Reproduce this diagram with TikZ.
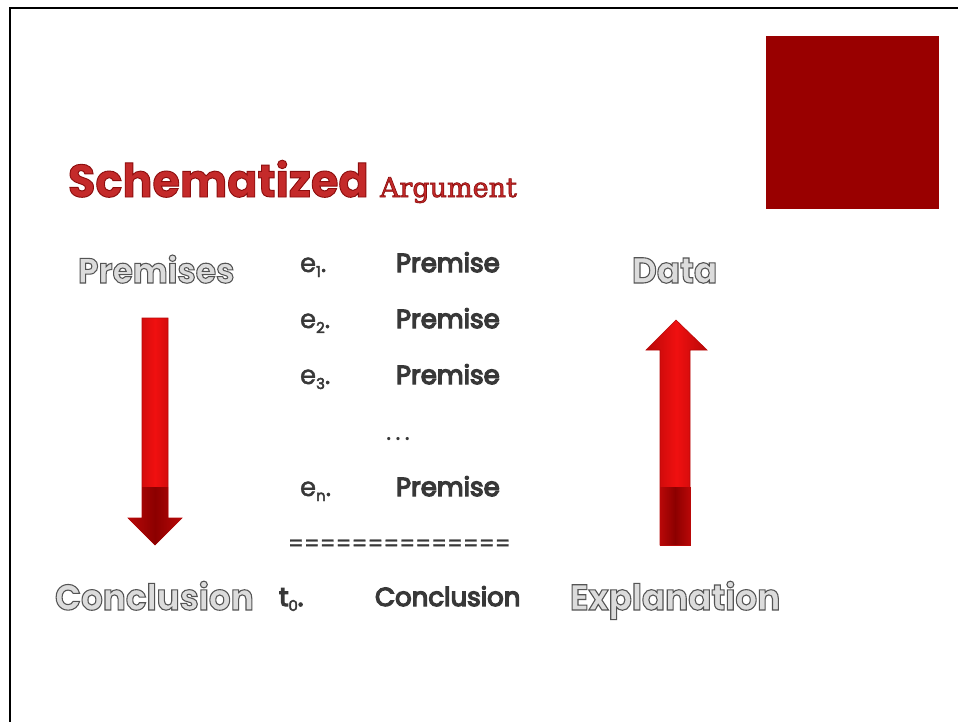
\documentclass[tikz,border=0pt]{standalone}
\usepackage{fontspec}
\setmainfont{Poppins}
\newfontfamily\argfont{DejaVu Serif}
\definecolor{boxred}{HTML}{990000}
\definecolor{titlered}{HTML}{C42A2A}
\definecolor{olfill}{HTML}{DCDCDC}
\definecolor{listgray}{HTML}{383838}
\definecolor{arrbright}{HTML}{F01010}
\definecolor{arrdark}{HTML}{B80808}
\definecolor{arrdeep}{HTML}{8C0000}
% stroke colour set by a pdf literal, fill by the text colour
\newcommand{\outl}[2]{\textcolor{olfill}{\special{pdf:literal direct 0.33 0.33 0.33 RG}\addfontfeature{FakeBold=#1}#2}}
\newcommand{\redoutl}[2]{\textcolor{titlered}{\special{pdf:literal direct 0.55 0.05 0.05 RG}\addfontfeature{FakeBold=#1}#2}}
\newcommand{\sbx}[1]{\raisebox{-5pt}{\fontsize{15}{15}\selectfont\addfontfeature{FakeBold=3} #1}}
\begin{document}
\begin{tikzpicture}[x=1pt,y=-1pt,
  txt/.style={anchor=base west,inner sep=0pt,outer sep=0pt},
  outlined/.style={txt,font=\fontsize{36}{36}\selectfont\bfseries\addfontfeature{FakeStretch=0.95}},
  listtxt/.style={txt,text=listgray,font=\fontsize{26}{26}\selectfont\addfontfeature{FakeBold=5}},
  idxtxt/.style={txt,text=listgray,font=\fontsize{26}{26}\selectfont\addfontfeature{FakeBold=1.5}},
  arrowbody/.style={draw=arrdark,line width=0.6pt,left color=arrdark,right color=arrdark,middle color=arrbright},
  arrowlow/.style={left color=arrdark,right color=arrdark,middle color=arrdeep}]
\useasboundingbox (0,0) rectangle (958,722);
\fill[white] (0,0) rectangle (958,722);
% frame
\draw[line width=2.5pt] (958,8) -- (10,8) -- (10,722);
% red square
\fill[boxred] (766,36) rectangle (939,209);
% title
\node[txt,font=\fontsize{46}{46}\selectfont\bfseries\addfontfeature{FakeStretch=0.97}] (title) at (68,197) {\redoutl{2}{Schematized}};
\node[txt,font=\fontsize{27}{27}\selectfont\argfont] (arg) at (380,197) {\redoutl{2.5}{Argument}};
% outlined labels
\node[outlined,font=\fontsize{35}{35}\selectfont\bfseries\addfontfeature{FakeStretch=0.94}] (prem) at (78,283) {\outl{3}{Premises}};
\node[outlined] (data) at (632,283) {\outl{3}{Data}};
\node[outlined] (concl) at (55,610) {\outl{3}{Conclusion}};
\node[outlined] (expl) at (570,610) {\outl{3}{Explanation}};
% list
\node[idxtxt] (e1) at (300,272) {e\sbx{1}.};
\node[listtxt] (p1) at (396,272) {Premise};
\node[idxtxt] (e2) at (300,328) {e\sbx{2}.};
\node[listtxt] (p2) at (396,328) {Premise};
\node[idxtxt] (e3) at (300,384) {e\sbx{3}.};
\node[listtxt] (p3) at (396,384) {Premise};
\node[idxtxt,font=\fontsize{26}{26}\selectfont\addfontfeature{LetterSpace=15}] (dots) at (386,440) {...};
\node[idxtxt] (en) at (300,496) {e\sbx{n}.};
\node[listtxt] (pn) at (396,496) {Premise};
\node[idxtxt,font=\fontsize{22}{22}\selectfont\addfontfeature{FakeBold=1}] (eq) at (288,551) {==============};
\node[listtxt] (t0) at (279,606) {t\sbx{0}.};
\node[listtxt] (cc) at (375,606) {Conclusion};
% down arrow
\path[arrowbody] (142,318) -- (168,318) -- (168,518) -- (182,518) -- (155,545) -- (128,518) -- (142,518) -- cycle;
\path[arrowlow] (142,487) -- (168,487) -- (168,518) -- (182,518) -- (155,545) -- (128,518) -- (142,518) -- cycle;
% up arrow
\path[arrowbody] (660,545) -- (690,545) -- (690,350) -- (707,350) -- (676,320) -- (646,350) -- (660,350) -- cycle;
\path[arrowlow] (660,487) rectangle (690,545);
\draw[arrdark,line width=0.6pt] (660,545) -- (690,545) -- (690,487) (660,487) -- (660,545);
\end{tikzpicture}
\end{document}
